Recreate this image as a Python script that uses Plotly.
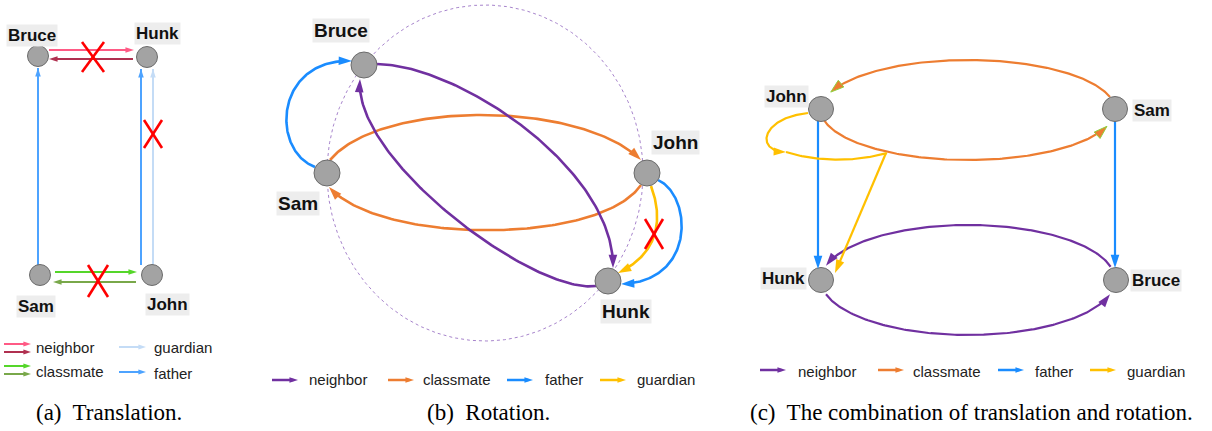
import numpy as np
import plotly.graph_objects as go

W, H = 1212, 431

# ---------------- colours ----------------
PURPLE, ORANGE, BLUE, YELLOW = "#7030a0", "#ed7d31", "#1a8cff", "#ffc000"
A_PINK, A_DARKRED = "#ff5a85", "#b03050"
A_GREEN, A_DARKGREEN = "#55d62a", "#79a84a"
A_BLUE, A_LIGHTBLUE = "#4da3ff", "#c4dcf6"
CROSS = "#ff0000"
NODE_FILL, NODE_LINE = "#a3a3a3", "#6b6b6b"

# ---------------- panel (a): Translation ----------------
A_NODE_NAMES = ["Bruce", "Hunk", "Sam", "John"]
A_NODE_X = [38, 147, 40, 152]
A_NODE_Y = [56, 57, 275, 275]
A_LABEL_X = [32, 157, 36, 167]
A_LABEL_Y = [35, 33, 306, 304]
# relation, colour, start, end (straight arrows)
A_EDGES = [
    ("neighbor", A_PINK, (49, 50), (134, 50)),
    ("neighbor", A_DARKRED, (133, 59), (49, 59)),
    ("classmate", A_GREEN, (55, 272), (137, 272)),
    ("classmate", A_DARKGREEN, (136, 282), (53, 282)),
    ("father", A_BLUE, (38, 265), (38, 68)),
    ("father", A_BLUE, (141, 265), (141, 69)),
    ("guardian", A_LIGHTBLUE, (153, 265), (153, 69)),
]
A_CROSSES = [(93, 57, 11, 15), (153, 134, 9, 14), (98, 281, 10, 16)]
A_LEGEND = [  # label, colours, arrow x0, x1, y list, text x, text y
    ("neighbor", [A_PINK, A_DARKRED], 4, 31, [344, 352], 34, 347),
    ("classmate", [A_GREEN, A_DARKGREEN], 4, 31, [366, 374], 34, 371),
    ("guardian", [A_LIGHTBLUE], 119, 146, [347], 152, 347),
    ("father", [A_BLUE], 119, 146, [372], 152, 373),
]

# ---------------- panel (b): Rotation ----------------
B_NODE_NAMES = ["Bruce", "Sam", "John", "Hunk"]
B_NODE_X = [364, 327, 647, 608]
B_NODE_Y = [65, 173, 173, 281]
B_LABEL_X = [341, 298, 675, 626]
B_LABEL_Y = [30, 203, 142, 311]
B_CIRCLE = (485, 173, 158, 168)
# relation, colour, cubic bezier control points
B_EDGES = [
    ("father", BLUE, [(315, 167), (270, 150), (275, 58), (352, 61)]),
    ("classmate", ORANGE, [(330, 160), (380, 100), (580, 100), (641, 160)]),
    ("classmate", ORANGE, [(641, 185), (600, 245), (380, 245), (329, 187)]),
    ("neighbor", PURPLE, [(377, 64), (460, 65), (615, 170), (613, 268)]),
    ("neighbor", PURPLE, [(596, 286), (535, 295), (352, 160), (360, 79)]),
    ("guardian", YELLOW, [(651, 186), (662, 215), (662, 252), (618, 273)]),
    ("father", BLUE, [(658, 180), (692, 195), (697, 282), (621, 284)]),
]
B_CROSSES = [(654, 234, 9, 15)]
B_LEGEND_NAMES = ["neighbor", "classmate", "father", "guardian"]
B_LEGEND_COLORS = [PURPLE, ORANGE, BLUE, YELLOW]
B_LEGEND_X0 = [272, 388, 507, 600]
B_LEGEND_TX = [307, 421, 543, 635]
B_LEGEND_Y = 380

# ---------------- panel (c): translation + rotation ----------------
C_NODE_NAMES = ["John", "Sam", "Hunk", "Bruce"]
C_NODE_X = [821, 1115, 821, 1116]
C_NODE_Y = [109, 109, 280, 280]
C_LABEL_X = [786, 1152, 783, 1156]
C_LABEL_Y = [96, 110, 278, 280]
# elliptical arcs: relation, colour, (cx, cy, rx, ry, start deg, end deg)
C_ARCS = [
    ("classmate", ORANGE, (968, 110, 147, 50, 15, 159)),
    ("classmate", ORANGE, (968, 110, 147, 50, 191, 341)),
    ("neighbor", PURPLE, (968, 280, 147, 55, 14, 165)),
    ("neighbor", PURPLE, (968, 280, 147, 55, 195, 345)),
]
C_LINES = [
    ("father", BLUE, (818, 121), (818, 269)),
    ("father", BLUE, (1115, 121), (1115, 268)),
    ("guardian", YELLOW, (886, 153), (835, 273)),
]
C_BEZIERS = [  # relation, colour, control points, has head
    ("guardian", YELLOW, [(808, 113), (760, 118), (755, 152), (786, 152)], True),
    ("guardian", YELLOW, [(786, 152), (820, 163), (860, 161), (887, 153)], False),
]
C_LEGEND_NAMES = ["neighbor", "classmate", "father", "guardian"]
C_LEGEND_COLORS = [PURPLE, ORANGE, BLUE, YELLOW]
C_LEGEND_X0 = [760, 878, 998, 1090]
C_LEGEND_TX = [796, 911, 1033, 1125]
C_LEGEND_Y = 370

CAPTIONS = [
    ("(a)  Translation.", 109),
    ("(b)  Rotation.", 488),
    ("(c)  The combination of translation and rotation.", 971),
]

# ---------------- helpers ----------------
fig = go.Figure()
heads = []


def bezier(ctrl, n=120):
    p = np.array(ctrl, dtype=float)
    t = np.linspace(0, 1, n)[:, None]
    return ((1 - t) ** 3) * p[0] + 3 * ((1 - t) ** 2) * t * p[1] + 3 * (1 - t) * t ** 2 * p[2] + t ** 3 * p[3]


def arc(spec, n=160):
    cx, cy, rx, ry, a0, a1 = spec
    t = np.radians(np.linspace(a0, a1, n))
    return np.column_stack([cx + rx * np.cos(t), cy - ry * np.sin(t)])


def seg(p0, p1, n=40):
    t = np.linspace(0, 1, n)[:, None]
    return (1 - t) * np.array(p0, float) + t * np.array(p1, float)


def edge(pts, color, width, head=0, outline=None, dash=None):
    x, y = pts[:, 0], pts[:, 1]
    if head:
        d = np.hypot(x - x[-1], y - y[-1])
        keep = d > head * 0.55
        idx = np.where(keep)[0]
        last = idx[-1] if len(idx) else 0
        lx, ly = np.append(x[: last + 1], x[last + 1]), np.append(y[: last + 1], y[last + 1])
    else:
        lx, ly = x, y
    fig.add_trace(go.Scatter(x=lx, y=ly, mode="lines",
                             line=dict(color=color, width=width, dash=dash),
                             hoverinfo="skip"))
    if head:
        d = np.hypot(x - x[-1], y - y[-1])
        j = np.where(d > 3)[0][-1]
        heads.append(go.Scatter(
            x=[x[j], x[-1]], y=[y[j], y[-1]], mode="markers", hoverinfo="skip",
            marker=dict(symbol="arrow", size=[0, head], opacity=[0, 1], angleref="previous",
                        color=color,
                        line=dict(color=outline or color, width=1 if outline else 0))))


def cross(cx, cy, hx, hy):
    for sx in (-1, 1):
        fig.add_trace(go.Scatter(x=[cx - sx * hx, cx + sx * hx], y=[cy - hy, cy + hy],
                                 mode="lines", line=dict(color=CROSS, width=2.6),
                                 hoverinfo="skip"))


def nodes(xs, ys, size):
    fig.add_trace(go.Scatter(x=xs, y=ys, mode="markers", hoverinfo="skip",
                             marker=dict(size=size, color=NODE_FILL,
                                         line=dict(color=NODE_LINE, width=1))))


annotations = []


def label(text, x, y, size):
    annotations.append(dict(x=x, y=y, xref="x", yref="y", text="<b>" + text + "</b>",
                            showarrow=False, bgcolor="#ededed", borderpad=1,
                            font=dict(family="Liberation Sans, Arial", size=size, color="#111")))


def legend_text(text, x, y):
    annotations.append(dict(x=x, y=y, xref="x", yref="y", text=text, xanchor="left",
                            showarrow=False,
                            font=dict(family="Liberation Sans, Arial", size=15, color="#222")))


# ---------------- panel (a) ----------------
for rel, col, p0, p1 in A_EDGES:
    edge(seg(p0, p1), col, 2, head=9)
for name, cols, x0, x1, ys, tx, ty in A_LEGEND:
    for c, yy in zip(cols, ys):
        edge(seg((x0, yy), (x1, yy)), c, 2, head=8)
    legend_text(name, tx, ty)
nodes(A_NODE_X, A_NODE_Y, 21)
for n, x, y in zip(A_NODE_NAMES, A_LABEL_X, A_LABEL_Y):
    label(n, x, y, 17)

# ---------------- panel (b) ----------------
cx, cy, rx, ry = B_CIRCLE
edge(arc((cx, cy, rx, ry, 0, 360), 400), "#a784cc", 1, dash="dot")
for rel, col, ctrl in B_EDGES:
    edge(bezier(ctrl), col, 2.6, head=14)
for name, col, x0, tx in zip(B_LEGEND_NAMES, B_LEGEND_COLORS, B_LEGEND_X0, B_LEGEND_TX):
    edge(seg((x0, B_LEGEND_Y), (x0 + 26, B_LEGEND_Y)), col, 2.5, head=9)
    legend_text(name, tx, B_LEGEND_Y - 1)
nodes(B_NODE_X, B_NODE_Y, 26)
for n, x, y in zip(B_NODE_NAMES, B_LABEL_X, B_LABEL_Y):
    label(n, x, y, 19)

# ---------------- panel (c) ----------------
for rel, col, spec in C_ARCS:
    edge(arc(spec), col, 2.2, head=14, outline="#8fd13f" if rel == "classmate" else None)
for rel, col, p0, p1 in C_LINES:
    edge(seg(p0, p1), col, 2.2, head=14)
for rel, col, ctrl, hd in C_BEZIERS:
    edge(bezier(ctrl), col, 2.2, head=13 if hd else 0)
for name, col, x0, tx in zip(C_LEGEND_NAMES, C_LEGEND_COLORS, C_LEGEND_X0, C_LEGEND_TX):
    edge(seg((x0, C_LEGEND_Y), (x0 + 26, C_LEGEND_Y)), col, 2.5, head=9)
    legend_text(name, tx, C_LEGEND_Y + 1)
nodes(C_NODE_X, C_NODE_Y, 25)
for n, x, y in zip(C_NODE_NAMES, C_LABEL_X, C_LABEL_Y):
    label(n, x, y, 17)

# arrowheads and crosses on top
for h in heads:
    fig.add_trace(h)
for c in A_CROSSES + B_CROSSES:
    cross(*c)

for text, x in CAPTIONS:
    annotations.append(dict(x=x, y=412, xref="x", yref="y", text=text, showarrow=False,
                            font=dict(family="Liberation Serif, Times New Roman", size=23,
                                      color="#000")))

fig.update_layout(
    width=W, height=H, margin=dict(l=0, r=0, t=0, b=0),
    paper_bgcolor="white", plot_bgcolor="white", showlegend=False,
    xaxis=dict(range=[0, W], visible=False, fixedrange=True),
    yaxis=dict(range=[H, 0], visible=False, fixedrange=True),
    annotations=annotations,
)
fig.write_html("out.html", config={"displayModeBar": False},
               post_script="document.body.style.margin='0px';document.body.style.overflow='hidden';")
